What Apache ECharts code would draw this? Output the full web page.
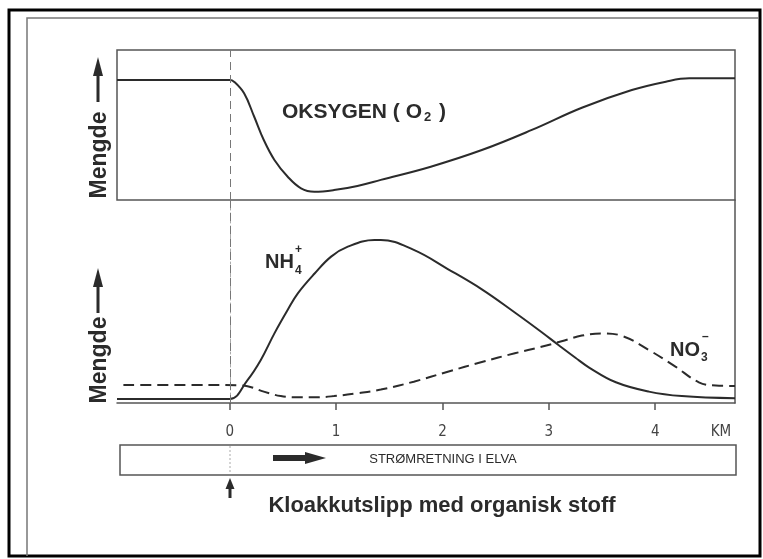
<!DOCTYPE html>
<html>
<head>
<meta charset="utf-8">
<script src="https://cdn.jsdelivr.net/npm/echarts@6/dist/echarts.min.js"></script>
<style>
  html, body { margin: 0; padding: 0; background: #fff; }
  #main { width: 763px; height: 559px; }
</style>
</head>
<body>
<div id="main"></div>
<script>
var chart = echarts.init(document.getElementById('main'));

// km nedstrøms fra utslippet, relative mengder (0-100) lest av figuren
var o2Km  = [-1.06, -0.3, 0, 0.04, 0.135, 0.23, 0.32, 0.42, 0.545, 0.67, 0.795, 0.98, 1.2, 1.42, 1.89, 2.37, 2.84, 3.31, 3.78, 4.1, 4.32, 4.75];
var o2Val = [80, 80, 80, 78.9, 71.1, 55.5, 40, 26.7, 15.5, 7.8, 5.5, 6.6, 9.4, 13.4, 22.2, 33.3, 46.7, 61.5, 73.3, 78.9, 81.1, 81.1];

var nh4Km  = [-1.06, -0.3, 0, 0.167, 0.292, 0.42, 0.544, 0.64, 0.8, 0.953, 1.11, 1.36, 1.42, 1.73, 2.05, 2.37, 2.68, 2.93, 3.09, 3.25, 3.375, 3.63, 3.94, 4.25, 4.75];
var nh4Val = [2, 2, 2, 11.3, 21.2, 34.3, 45.8, 54, 63.9, 72.1, 77, 80.3, 80.3, 75.4, 66, 56, 44.6, 35, 28.6, 22.3, 17.6, 10.2, 5.6, 3.4, 2.3];

var no3Km  = [-1.0, -0.3, 0.07, 0.167, 0.32, 0.48, 0.64, 0.8, 0.98, 1.2, 1.42, 1.73, 2.05, 2.37, 2.68, 2.93, 3.12, 3.31, 3.5, 3.69, 3.94, 4.19, 4.41, 4.57, 4.75];
var no3Val = [8.9, 8.9, 8.7, 8.3, 5.6, 3.4, 2.8, 2.8, 3.4, 4.8, 6.6, 10.5, 15.4, 20.2, 24.5, 27.7, 30.4, 33.2, 34.3, 33, 26.1, 17.9, 10.2, 8.6, 8.4];

var tickKm = [0, 1, 2, 3, 4];

function zip(xs, ys) {
  return xs.map(function (x, i) { return [x, ys[i]]; });
}

var ink = '#2b2b2b';
var frame = '#555';
var bold = 'bold 20px "Liberation Sans", Arial, sans-serif';
var small = 'bold 12px "Liberation Sans", Arial, sans-serif';

var zeroLine = {
  symbol: 'none',
  silent: true,
  label: { show: false },
  lineStyle: { type: [8, 5], color: '#777', width: 1 },
  data: [{ xAxis: 0 }]
};

var option = {
  backgroundColor: '#fff',
  animation: false,
  grid: [
    { left: 117, right: 28, top: 50, height: 150, show: true, borderColor: frame, borderWidth: 1.5 },
    { left: 117, right: 28, top: 200, height: 203 }
  ],
  xAxis: [
    {
      type: 'value', gridIndex: 0, min: -1.06, max: 4.75,
      axisLine: { show: false }, axisTick: { show: false },
      axisLabel: { show: false }, splitLine: { show: false }
    },
    {
      type: 'value', gridIndex: 1, min: -1.06, max: 4.75,
      axisLine: { show: true, onZero: false, lineStyle: { color: frame, width: 1.5 } },
      axisTick: { show: true, customValues: tickKm, length: 7, lineStyle: { color: frame, width: 1.5 } },
      axisLabel: {
        show: true, customValues: tickKm, margin: 22,
        color: '#444', fontSize: 15, fontFamily: '"Liberation Sans Narrow", "DejaVu Sans Condensed", sans-serif'
      },
      splitLine: { show: false }
    }
  ],
  yAxis: [
    {
      type: 'value', gridIndex: 0, min: 0, max: 100,
      axisLine: { show: false }, axisTick: { show: false },
      axisLabel: { show: false }, splitLine: { show: false }
    },
    {
      type: 'value', gridIndex: 1, min: 0, max: 100,
      axisLine: { show: true, lineStyle: { color: '#aaa', width: 1, type: [10, 3, 2, 3] } },
      axisTick: { show: false }, axisLabel: { show: false }, splitLine: { show: false }
    },
    {
      type: 'value', gridIndex: 1, min: 0, max: 100, position: 'right',
      axisLine: { show: true, lineStyle: { color: frame, width: 1.5 } },
      axisTick: { show: false }, axisLabel: { show: false }, splitLine: { show: false }
    }
  ],
  series: [
    {
      name: 'O2', type: 'line', xAxisIndex: 0, yAxisIndex: 0,
      smooth: 0.4, showSymbol: false,
      lineStyle: { color: ink, width: 2 },
      data: zip(o2Km, o2Val),
      markLine: zeroLine
    },
    {
      name: 'NH4+', type: 'line', xAxisIndex: 1, yAxisIndex: 1,
      smooth: 0.4, showSymbol: false,
      lineStyle: { color: ink, width: 2 },
      data: zip(nh4Km, nh4Val),
      markLine: zeroLine
    },
    {
      name: 'NO3-', type: 'line', xAxisIndex: 1, yAxisIndex: 1,
      smooth: 0.4, showSymbol: false,
      lineStyle: { color: ink, width: 2, type: [11, 6] },
      data: zip(no3Km, no3Val)
    }
  ],
  graphic: [
    // ramme rundt figuren
    { type: 'rect', shape: { x: 9, y: 10, width: 751, height: 546 }, style: { fill: null, stroke: '#000', lineWidth: 3 }, silent: true },
    { type: 'polyline', shape: { points: [[27, 556], [27, 18], [759, 18]] }, style: { fill: null, stroke: '#777', lineWidth: 1.5 }, silent: true },

    // Mengde-piler
    { type: 'polygon', shape: { points: [[98, 57], [93, 76], [103, 76]] }, style: { fill: ink } },
    { type: 'rect', shape: { x: 96.5, y: 74, width: 3, height: 28 }, style: { fill: ink } },
    { type: 'text', x: 100, y: 155, rotation: Math.PI / 2,
      style: { text: 'Mengde', font: 'bold 23px "Liberation Sans", Arial, sans-serif', fill: ink, align: 'center', verticalAlign: 'middle' } },
    { type: 'polygon', shape: { points: [[98, 268], [93, 287], [103, 287]] }, style: { fill: ink } },
    { type: 'rect', shape: { x: 96.5, y: 285, width: 3, height: 28 }, style: { fill: ink } },
    { type: 'text', x: 100, y: 360, rotation: Math.PI / 2,
      style: { text: 'Mengde', font: 'bold 23px "Liberation Sans", Arial, sans-serif', fill: ink, align: 'center', verticalAlign: 'middle' } },

    // kurvenavn
    { type: 'text', x: 282, y: 112,
      style: {
        text: '{a|OKSYGEN ( O}{s|2}{a| )}', fill: ink, verticalAlign: 'middle',
        rich: {
          a: { font: 'bold 21px "Liberation Sans", Arial, sans-serif', fill: ink },
          s: { font: 'bold 13px "Liberation Sans", Arial, sans-serif', fill: ink, padding: [10, 2, 0, 2] }
        }
      } },
    { type: 'text', x: 265, y: 262, style: { text: 'NH', font: bold, fill: ink, verticalAlign: 'middle' } },
    { type: 'text', x: 295, y: 271, style: { text: '4', font: small, fill: ink, verticalAlign: 'middle' } },
    { type: 'text', x: 295, y: 250, style: { text: '+', font: small, fill: ink, verticalAlign: 'middle' } },
    { type: 'text', x: 670, y: 350, style: { text: 'NO', font: bold, fill: ink, verticalAlign: 'middle' } },
    { type: 'text', x: 701, y: 358, style: { text: '3', font: small, fill: ink, verticalAlign: 'middle' } },
    { type: 'text', x: 702, y: 337, style: { text: '–', font: small, fill: ink, verticalAlign: 'middle' } },

    { type: 'text', x: 721, y: 432,
      style: { text: 'KM', font: '15px "Liberation Sans Narrow", "DejaVu Sans Condensed", sans-serif', fill: '#444', align: 'center', verticalAlign: 'middle' } },

    // strømretning
    { type: 'rect', shape: { x: 120, y: 445, width: 616, height: 30 }, style: { fill: null, stroke: frame, lineWidth: 1.5 } },
    { type: 'line', shape: { x1: 230, y1: 446, x2: 230, y2: 474 }, style: { stroke: '#aaa', lineWidth: 1, lineDash: [2, 2] } },
    { type: 'rect', shape: { x: 273, y: 455, width: 34, height: 6 }, style: { fill: ink } },
    { type: 'polygon', shape: { points: [[305, 452], [326, 458], [305, 464]] }, style: { fill: ink } },
    { type: 'text', x: 443, y: 459,
      style: { text: 'STRØMRETNING I ELVA', font: '13px "Liberation Sans", Arial, sans-serif', fill: ink, align: 'center', verticalAlign: 'middle' } },

    // utslippspunkt
    { type: 'polygon', shape: { points: [[230, 478], [225.5, 489], [234.5, 489]] }, style: { fill: ink } },
    { type: 'rect', shape: { x: 228.5, y: 487, width: 3, height: 11 }, style: { fill: ink } },
    { type: 'text', x: 442, y: 506,
      style: { text: 'Kloakkutslipp med organisk stoff', font: 'bold 22px "Liberation Sans", Arial, sans-serif', fill: ink, align: 'center', verticalAlign: 'middle' } }
  ]
};

chart.setOption(option);
</script>
</body>
</html>
